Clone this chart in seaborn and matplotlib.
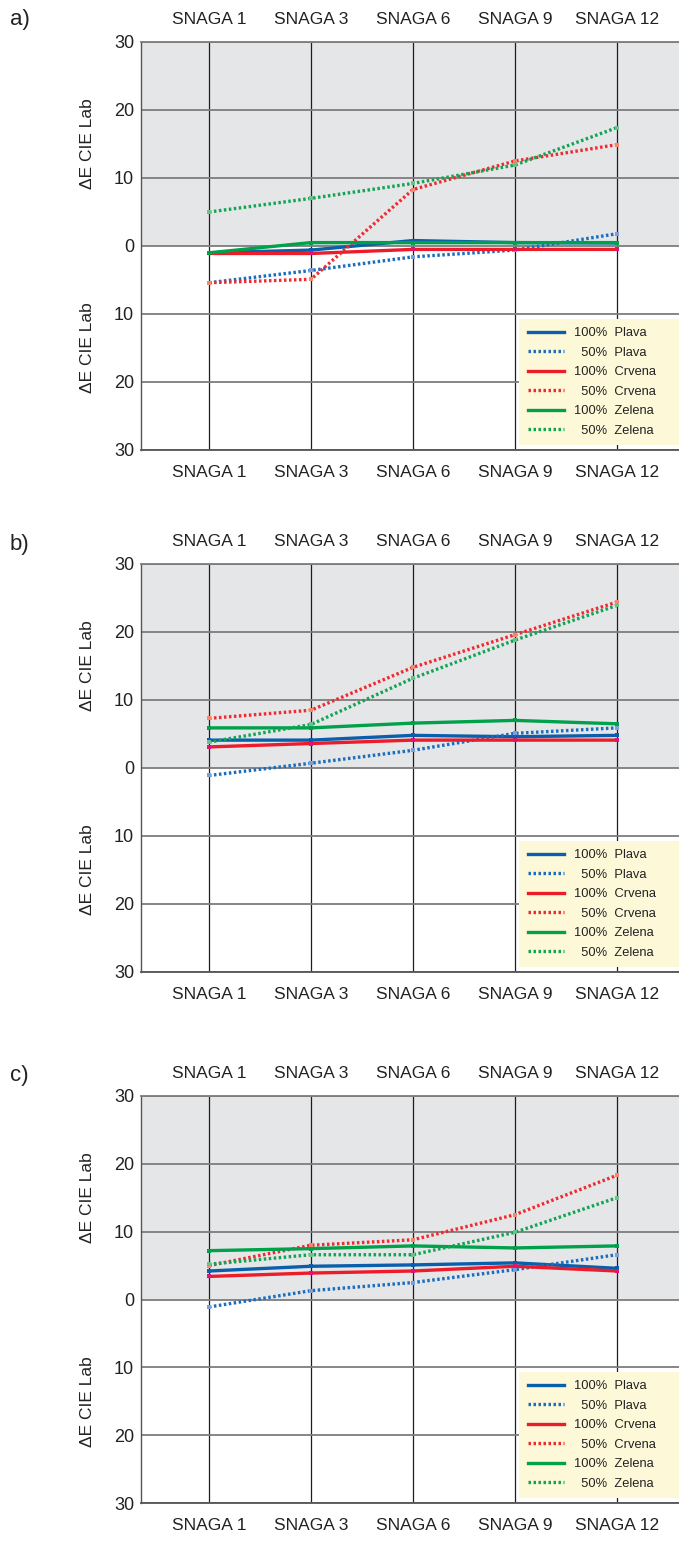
import numpy as np
import pandas as pd
import matplotlib
matplotlib.use("Agg")
import matplotlib.pyplot as plt
import seaborn as sns
from matplotlib.lines import Line2D

# CATEGORIES
snaga = ["SNAGA 1", "SNAGA 3", "SNAGA 6", "SNAGA 9", "SNAGA 12"]

# PANEL A VALUES (delta E CIE Lab)
a_plava_100 = [-1.0, -0.6, 0.8, 0.5, 0.45]
a_plava_50 = [-5.4, -3.6, -1.6, -0.6, 1.8]
a_crvena_100 = [-1.1, -1.1, -0.5, -0.5, -0.5]
a_crvena_50 = [-5.4, -4.9, 8.3, 12.5, 14.9]
a_zelena_100 = [-1.0, 0.5, 0.5, 0.5, 0.5]
a_zelena_50 = [5.0, 7.0, 9.2, 11.9, 17.4]

# PANEL B VALUES
b_plava_100 = [4.1, 4.1, 4.8, 4.6, 4.8]
b_plava_50 = [-1.1, 0.7, 2.6, 5.1, 5.9]
b_crvena_100 = [3.1, 3.6, 4.1, 4.1, 4.1]
b_crvena_50 = [7.3, 8.5, 14.8, 19.6, 24.4]
b_zelena_100 = [5.9, 5.9, 6.6, 7.0, 6.5]
b_zelena_50 = [3.8, 6.4, 13.2, 18.8, 23.9]

# PANEL C VALUES
c_plava_100 = [4.2, 4.9, 5.1, 5.4, 4.6]
c_plava_50 = [-1.1, 1.3, 2.5, 4.4, 6.6]
c_crvena_100 = [3.4, 3.9, 4.2, 4.9, 4.2]
c_crvena_50 = [5.0, 8.0, 8.8, 12.5, 18.3]
c_zelena_100 = [7.2, 7.5, 7.9, 7.6, 7.9]
c_zelena_50 = [5.2, 6.6, 6.6, 9.9, 15.0]

series_labels = ["100%  Plava", "  50%  Plava", "100%  Crvena",
                 "  50%  Crvena", "100%  Zelena", "  50%  Zelena"]

panels = {
    "a)": [a_plava_100, a_plava_50, a_crvena_100, a_crvena_50, a_zelena_100, a_zelena_50],
    "b)": [b_plava_100, b_plava_50, b_crvena_100, b_crvena_50, b_zelena_100, b_zelena_50],
    "c)": [c_plava_100, c_plava_50, c_crvena_100, c_crvena_50, c_zelena_100, c_zelena_50],
}

# STYLES
line_colors = ["#0a5fac", "#1a6dbf", "#ed1c2a", "#ef2b30", "#00a14b", "#10a552"]
marker_colors = ["#0a5fac", "#7d9fd6", "#e0117a", "#f7866a", "#00a14b", "#6cc08a"]
dotted = (0, (0.75, 0.75))
line_styles = ["-", dotted, "-", dotted, "-", dotted]

plt.rcParams["font.family"] = ["Liberation Sans", "DejaVu Sans"]

fig = plt.figure(figsize=(6.79, 15.42), dpi=100)

# axes positions in figure fractions (top, bottom in pixels)
H = 1542
axes_px = [(42, 450), (564, 972), (1096, 1503)]
label_y_px = [19, 544, 1076]

for (panel, values), (top, bot), ly in zip(panels.items(), axes_px, label_y_px):
    ax = fig.add_axes([141 / 679, 1 - bot / H, 538 / 679, (bot - top) / H])

    ax.axhspan(0, 30, color="#e5e6e8", zorder=0, lw=0)

    for vals, lab, col, mcol, ls in zip(values, series_labels, line_colors, marker_colors, line_styles):
        df = pd.DataFrame({"snaga": snaga, "dE": vals})
        sns.lineplot(data=df, x="snaga", y="dE", ax=ax, color=col, lw=2.4,
                     linestyle=ls, marker="s", markersize=3.2, markeredgewidth=0,
                     markerfacecolor=mcol, sort=False, zorder=3)
        ax.lines[-1].set_dash_capstyle("butt")

    ax.set_xlim(-0.667, 4.61)
    ax.set_ylim(-30, 30)
    ax.set_yticks(np.arange(-30, 31, 10))
    ax.set_yticklabels([str(abs(v)) for v in np.arange(-30, 31, 10)], fontsize=13)
    ax.set_xticks(range(len(snaga)))
    ax.set_xticklabels(snaga, fontsize=12.5)
    ax.tick_params(axis="both", length=0, colors="#222222")
    ax.tick_params(axis="x", labeltop=True, labelbottom=True, pad=11)
    ax.tick_params(axis="y", pad=5)
    ax.set_xlabel("")
    ax.set_ylabel("")

    ax.set_axisbelow(True)
    ax.grid(axis="y", color="#7d7d7d", lw=1.3, zorder=1)
    ax.grid(axis="x", color="#1e1e1e", lw=0.9, zorder=1)

    ax.spines["right"].set_visible(False)
    ax.spines["top"].set_color("#7d7d7d")
    ax.spines["top"].set_linewidth(1.3)
    ax.spines["bottom"].set_color("#555555")
    ax.spines["bottom"].set_linewidth(1.3)
    ax.spines["left"].set_color("#555555")
    ax.spines["left"].set_linewidth(1.0)

    for yc in (0.75, 0.25):
        ax.text(-0.099, yc, "\u0394E CIE Lab", rotation=90, transform=ax.transAxes,
                ha="center", va="center", fontsize=12.5, color="#222222")

    handles = [Line2D([0], [0], color=c, lw=2.4, linestyle=s, dash_capstyle="butt")
               for c, s in zip(line_colors, line_styles)]
    leg = ax.legend(handles, [l + "    " for l in series_labels], loc="lower right",
                    bbox_to_anchor=(1.0, 0.012),
                    borderaxespad=0, fontsize=9.3, frameon=True, fancybox=False,
                    facecolor="#fdf8d8", edgecolor="none", framealpha=1,
                    handlelength=2.8, labelspacing=0.58, handletextpad=0.8,
                    borderpad=0.65)
    leg.set_zorder(5)
    for t in leg.get_texts():
        t.set_color("#222222")

    fig.text(10 / 679, 1 - ly / H, panel, fontsize=16, ha="left", va="center", color="#222222")

fig.savefig("out.png", dpi=100)
